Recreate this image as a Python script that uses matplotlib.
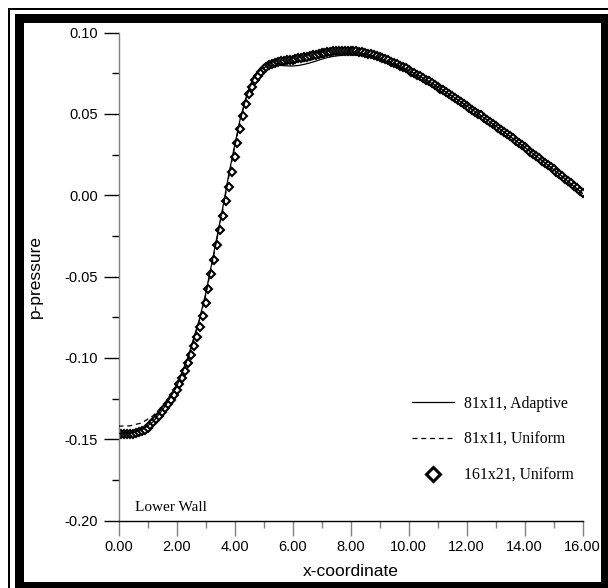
import numpy as np
import matplotlib
matplotlib.use("Agg")
import matplotlib.pyplot as plt
from matplotlib.patches import Rectangle
from matplotlib.lines import Line2D

plt.rcParams["axes.unicode_minus"] = False
SANS = "Liberation Sans"
SERIF = "Liberation Serif"

# ---- data -------------------------------------------------------------
# 161x21 uniform grid, lower-wall pressure (dx = 0.1)
fine_x = np.linspace(0.0, 16.0, 161)
fine_p = [
    -0.1470, -0.1470, -0.1470, -0.1469, -0.1468, -0.1466, -0.1462, -0.1457, -0.1450, -0.1441,
    -0.1430, -0.1414, -0.1396, -0.1376, -0.1355, -0.1333, -0.1310, -0.1285, -0.1258, -0.1229,
    -0.1197, -0.1161, -0.1122, -0.1079, -0.1032, -0.0982, -0.0928, -0.0870, -0.0810, -0.0740,
    -0.0660, -0.0574, -0.0486, -0.0397, -0.0307, -0.0217, -0.0127, -0.0037, 0.0053, 0.0143,
    0.0232, 0.0318, 0.0405, 0.0488, 0.0560, 0.0620, 0.0668, 0.0705, 0.0735, 0.0758,
    0.0776, 0.0790, 0.0801, 0.0809, 0.0815, 0.0819, 0.0822, 0.0825, 0.0828, 0.0831,
    0.0834, 0.0837, 0.0841, 0.0844, 0.0848, 0.0852, 0.0856, 0.0860, 0.0864, 0.0868,
    0.0872, 0.0875, 0.0878, 0.0881, 0.0884, 0.0886, 0.0887, 0.0888, 0.0888, 0.0888,
    0.0887, 0.0886, 0.0884, 0.0881, 0.0878, 0.0874, 0.0870, 0.0865, 0.0860, 0.0855,
    0.0849, 0.0843, 0.0836, 0.0829, 0.0821, 0.0813, 0.0805, 0.0797, 0.0788, 0.0779,
    0.0769, 0.0760, 0.0750, 0.0740, 0.0730, 0.0720, 0.0709, 0.0699, 0.0688, 0.0677,
    0.0666, 0.0655, 0.0644, 0.0633, 0.0621, 0.0610, 0.0598, 0.0586, 0.0574, 0.0562,
    0.0550, 0.0538, 0.0526, 0.0514, 0.0502, 0.0490, 0.0477, 0.0465, 0.0452, 0.0440,
    0.0427, 0.0414, 0.0401, 0.0388, 0.0375, 0.0362, 0.0349, 0.0336, 0.0322, 0.0309,
    0.0295, 0.0282, 0.0268, 0.0255, 0.0241, 0.0227, 0.0213, 0.0200, 0.0186, 0.0172,
    0.0158, 0.0144, 0.0130, 0.0116, 0.0101, 0.0087, 0.0072, 0.0058, 0.0043, 0.0028,
    0.0013,
]

# 81x11 adaptive grid
adapt_x = [0.0, 0.4, 0.8, 1.2, 1.6, 2.0, 2.4, 2.8, 3.0, 3.2, 3.4, 3.6, 3.8, 4.0,
           4.2, 4.4, 4.6, 4.8, 5.0, 5.2, 5.4, 5.6, 5.8, 6.0, 6.2, 6.4, 6.6, 6.8,
           7.0, 7.2, 7.4, 7.6, 7.8, 8.0, 8.4, 8.8, 9.2, 9.6, 10.0, 10.4, 10.8,
           11.2, 11.6, 12.0, 12.8, 13.6, 14.4, 15.2, 16.0]
adapt_p = [-0.1465, -0.1462, -0.1445, -0.1392, -0.1300, -0.1180, -0.0993, -0.0757,
           -0.0610, -0.0433, -0.0253, -0.0073, 0.0125, 0.0301, 0.0472, 0.0600,
           0.0700, 0.0755, 0.0783, 0.0795, 0.0799, 0.0798, 0.0795, 0.0794, 0.0797,
           0.0804, 0.0813, 0.0824, 0.0836, 0.0846, 0.0853, 0.0858, 0.0861, 0.0862,
           0.0858, 0.0845, 0.0826, 0.0800, 0.0767, 0.0730, 0.0688, 0.0644, 0.0598,
           0.0550, 0.0452, 0.0349, 0.0241, 0.0130, 0.0010]

# 81x11 uniform grid
unif_x = [0.0, 0.4, 0.8, 1.2, 1.6, 2.0, 2.4, 2.8, 3.0, 3.2, 3.4, 3.6, 3.8, 4.0,
          4.2, 4.4, 4.6, 4.8, 5.0, 5.2, 5.4, 5.6, 5.8, 6.0, 6.4, 6.8, 7.2, 7.6,
          8.0, 8.4, 8.8, 9.2, 9.6, 10.0, 10.4, 10.8, 11.2, 11.6, 12.0, 12.8,
          13.6, 14.4, 15.2, 16.0]
unif_p = [-0.1420, -0.1418, -0.1400, -0.1355, -0.1280, -0.1170, -0.1000, -0.0765,
          -0.0620, -0.0445, -0.0265, -0.0085, 0.0110, 0.0290, 0.0460, 0.0600,
          0.0695, 0.0755, 0.0790, 0.0805, 0.0810, 0.0811, 0.0812, 0.0814, 0.0822,
          0.0838, 0.0858, 0.0870, 0.0874, 0.0870, 0.0856, 0.0834, 0.0805, 0.0769,
          0.0730, 0.0688, 0.0644, 0.0598, 0.0550, 0.0452, 0.0349, 0.0241, 0.0130,
          0.0010]

labels = ["81x11, Adaptive", "81x11, Uniform", "161x21, Uniform"]
x_ticks = [0, 2, 4, 6, 8, 10, 12, 14, 16]
y_ticks = [-0.20, -0.15, -0.10, -0.05, 0.00, 0.05, 0.10]

# ---- figure -----------------------------------------------------------
W, H = 608, 588
fig = plt.figure(figsize=(W / 100, H / 100), dpi=100)
fig.patch.set_facecolor("white")

# decorative double border (pixel coordinates)
frame = fig.add_axes([0, 0, 1, 1], zorder=-1)
frame.set_xlim(0, W)
frame.set_ylim(H, 0)
frame.axis("off")
for (x0, y0, w, h) in [(8, 8, 1.6, H), (8, 8, W, 1.6),
                       (15, 14, 9, H), (15, 14, W, 9),
                       (601, 14, 20, H), (15, 582, W, 20)]:
    frame.add_patch(Rectangle((x0, y0), w, h, facecolor="black", edgecolor="none"))

ax_l, ax_r, ax_t, ax_b = 118.5, 582.5, 32.5, 520.5
ax = fig.add_axes([ax_l / W, (H - ax_b) / H, (ax_r - ax_l) / W, (ax_b - ax_t) / H])
ax.set_xlim(0, 16)
ax.set_ylim(-0.20, 0.10)

ax.plot(fine_x, fine_p, linestyle="none", marker="D", markersize=3.6,
        markerfacecolor="white", markeredgecolor="black", markeredgewidth=1.5,
        zorder=2)
ax.plot(adapt_x, adapt_p, color="black", lw=0.9, zorder=3)
ax.plot(unif_x, unif_p, color="black", lw=0.9, linestyle=(0, (4, 3)), zorder=3)

for s in ("top", "right"):
    ax.spines[s].set_visible(False)
ax.spines["left"].set_color("#808080")
ax.spines["bottom"].set_color("black")
ax.spines["left"].set_linewidth(1.0)
ax.spines["bottom"].set_linewidth(1.0)

ax.set_xticks(x_ticks)
ax.set_xticklabels([f"{v:.2f}" for v in x_ticks])
ax.set_xticks(np.arange(1, 16, 2), minor=True)
ax.set_yticks(y_ticks)
ax.set_yticklabels([f"{v:.2f}" for v in y_ticks])
ax.set_yticks(np.arange(-0.175, 0.1, 0.05), minor=True)

ax.tick_params(axis="x", which="major", direction="out", length=10.8, width=1,
               color="#808080", pad=3, labelsize=10.5)
ax.tick_params(axis="x", which="minor", direction="out", length=5, width=1,
               color="#808080")
ax.tick_params(axis="y", which="major", direction="out", length=10.8, width=1,
               color="black", pad=4, labelsize=10.5)
ax.tick_params(axis="y", which="minor", direction="out", length=5, width=1,
               color="black")
for lab in ax.get_xticklabels() + ax.get_yticklabels():
    lab.set_fontfamily(SANS)

ax.set_xlabel("x-coordinate", fontsize=12.5, fontfamily=SANS)
ax.set_ylabel("p-pressure", fontsize=12.5, fontfamily=SANS)
ax.xaxis.set_label_coords(0.5, -0.09)
ax.yaxis.set_label_coords(-0.163, 0.5)

ax.text(0.57, -0.1919, "Lower Wall", fontsize=11, fontfamily=SERIF,
        ha="left", va="center")

handles = [
    Line2D([], [], color="black", lw=0.9),
    Line2D([], [], color="black", lw=0.9, linestyle=(0, (4, 3))),
    Line2D([], [], linestyle="none", marker="D", markersize=7,
           markerfacecolor="white", markeredgecolor="black", markeredgewidth=2.2),
]
ax.legend(handles, labels, loc="upper left", bbox_to_anchor=(0.6325, 0.256),
          frameon=False, borderpad=0, borderaxespad=0, handlelength=2.7,
          handletextpad=0.6, labelspacing=1.28, numpoints=1,
          prop={"family": SERIF, "size": 11.3})

fig.savefig("out.png", dpi=100)
